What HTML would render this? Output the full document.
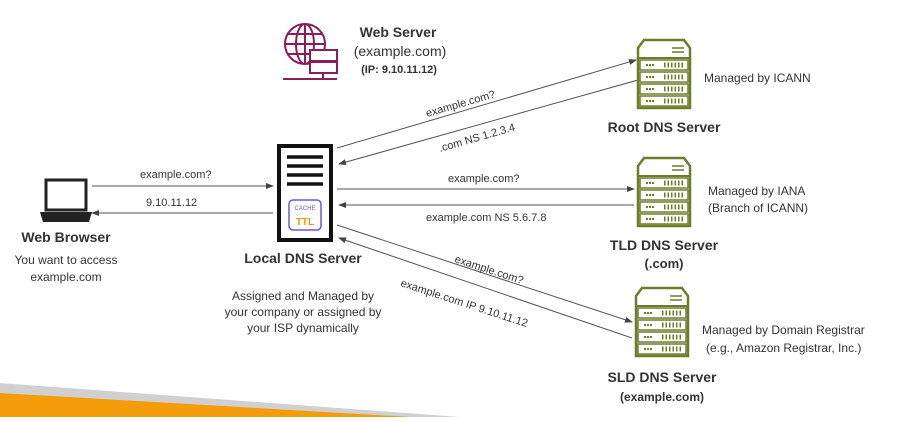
<!DOCTYPE html>
<html><head><style>
body{margin:0;width:905px;height:417px;overflow:hidden;background:#fff;font-family:"Liberation Sans",sans-serif;}
</style></head><body>
<svg width="905" height="417" xmlns="http://www.w3.org/2000/svg" font-family="Liberation Sans, sans-serif">
<defs>
<marker id="a" markerWidth="8" markerHeight="8" refX="7" refY="4" orient="auto" markerUnits="userSpaceOnUse"><path d="M0,1 L8,4 L0,7z" fill="#444"/></marker>
<g id="srv">
<path d="M2,8 L8,0 L48,0 L54,8 L54,68 L2,68z" fill="#fff" stroke="#6b7d2a" stroke-width="2.5"/>
<line x1="2" y1="18" x2="54" y2="18" stroke="#6b7d2a" stroke-width="2"/>
<rect x="4" y="20" width="48" height="10" fill="none" stroke="#6b7d2a" stroke-width="1.5"/>
<rect x="4" y="32" width="48" height="10" fill="none" stroke="#6b7d2a" stroke-width="1.5"/>
<rect x="4" y="44" width="48" height="10" fill="none" stroke="#6b7d2a" stroke-width="1.5"/>
<rect x="4" y="56" width="48" height="10" fill="none" stroke="#6b7d2a" stroke-width="1.5"/>
<path d="M10,25h8M10,37h8M10,49h8M10,61h8" stroke="#6b7d2a" stroke-width="2" stroke-dasharray="2,1"/>
<path d="M28,25h20M28,37h20M28,49h20M28,61h20" stroke="#6b7d2a" stroke-width="5" stroke-dasharray="1.5,2"/>
<path d="M36,8h12M36,12h12" stroke="#6b7d2a" stroke-width="1.5"/>
</g>
</defs>
<!-- bottom bands -->
<polygon points="0,383 460,417 0,417" fill="#d0d0d0"/>
<polygon points="0,393 410,417 0,417" fill="#f59c0a"/>
<!-- web server icon -->
<g stroke="#8c1c5a" fill="none" stroke-width="2">
<circle cx="305" cy="44" r="20"/>
<ellipse cx="305" cy="44" rx="9" ry="20"/>
<line x1="285" y1="44" x2="325" y2="44"/><line x1="305" y1="24" x2="305" y2="64"/>
<path d="M288,34h34M288,54h34"/>
<rect x="310" y="50" width="27" height="11" fill="#fff"/>
<rect x="310" y="62" width="27" height="11" fill="#fff"/>
<line x1="283" y1="79" x2="337" y2="79"/><line x1="323" y1="73" x2="323" y2="79"/>
</g>
<text x="398" y="37" font-size="14" font-weight="bold" fill="#333" text-anchor="middle">Web Server</text>
<text x="400" y="56" font-size="14" fill="#333" text-anchor="middle">(example.com)</text>
<text x="399" y="73" font-size="11" font-weight="bold" fill="#333" text-anchor="middle">(IP: 9.10.11.12)</text>
<!-- local dns -->
<rect x="279" y="146" width="52" height="94" fill="#fff" stroke="#111" stroke-width="4"/>
<path d="M287,157h36M287,166h36M287,175h36M287,184h36" stroke="#111" stroke-width="3.5"/>
<rect x="289" y="200" width="32" height="30" rx="4" fill="#fff" stroke="#6a5acd" stroke-width="1.5"/>
<text x="305" y="210" font-size="6" fill="#6a5acd" text-anchor="middle">CACHE</text>
<text x="305" y="225" font-size="10" font-weight="bold" fill="#f0960e" text-anchor="middle">TTL</text>
<text x="303" y="263" font-size="14" font-weight="bold" fill="#333" text-anchor="middle">Local DNS Server</text>
<text x="303" y="300" font-size="12" fill="#333" text-anchor="middle">Assigned and Managed by</text>
<text x="303" y="316" font-size="12" fill="#333" text-anchor="middle">your company or assigned by</text>
<text x="303" y="332" font-size="12" fill="#333" text-anchor="middle">your ISP dynamically</text>
<!-- laptop -->
<rect x="46" y="180" width="40" height="30" fill="#fff" stroke="#222" stroke-width="3"/>
<path d="M40,212 h52 l-3,10 h-46z" fill="#222"/>
<text x="66" y="242" font-size="14" font-weight="bold" fill="#333" text-anchor="middle">Web Browser</text>
<text x="66" y="264" font-size="12" fill="#333" text-anchor="middle">You want to access</text>
<text x="66" y="281" font-size="12" fill="#333" text-anchor="middle">example.com</text>
<g stroke="#555" stroke-width="1">
<line x1="92" y1="186" x2="273" y2="186" marker-end="url(#a)"/>
<line x1="273" y1="213" x2="92" y2="213" marker-end="url(#a)"/>
<line x1="337" y1="148" x2="636" y2="60" marker-end="url(#a)"/>
<line x1="638" y1="80" x2="339" y2="164" marker-end="url(#a)"/>
<line x1="337" y1="189" x2="634" y2="189" marker-end="url(#a)"/>
<line x1="634" y1="205" x2="339" y2="205" marker-end="url(#a)"/>
<line x1="337" y1="225" x2="632" y2="322" marker-end="url(#a)"/>
<line x1="632" y1="338" x2="339" y2="238" marker-end="url(#a)"/>
</g>
<g font-size="11" fill="#333">
<text x="140" y="178">example.com?</text>
<text x="146" y="206">9.10.11.12</text>
<text x="0" y="0" transform="translate(427,117) rotate(-16)">example.com?</text>
<text x="0" y="0" transform="translate(440,152) rotate(-16)">.com NS 1.2.3.4</text>
<text x="448" y="182">example.com?</text>
<text x="426" y="221">example.com NS 5.6.7.8</text>
<text x="0" y="0" transform="translate(454,262) rotate(18)">example.com?</text>
<text x="0" y="0" transform="translate(400,286) rotate(18)">example.com IP 9.10.11.12</text>
</g>
<use href="#srv" x="636" y="40"/>
<use href="#srv" x="636" y="158"/>
<use href="#srv" x="634" y="288"/>
<g fill="#333">
<text x="664" y="132" font-size="14" font-weight="bold" text-anchor="middle">Root DNS Server</text>
<text x="704" y="82" font-size="12">Managed by ICANN</text>
<text x="664" y="250" font-size="14" font-weight="bold" text-anchor="middle">TLD DNS Server</text>
<text x="664" y="268" font-size="13" font-weight="bold" text-anchor="middle">(.com)</text>
<text x="708" y="195" font-size="12">Managed by IANA</text>
<text x="708" y="212" font-size="12">(Branch of ICANN)</text>
<text x="662" y="382" font-size="14" font-weight="bold" text-anchor="middle">SLD DNS Server</text>
<text x="662" y="401" font-size="12" font-weight="bold" text-anchor="middle">(example.com)</text>
<text x="702" y="334" font-size="12">Managed by Domain Registrar</text>
<text x="706" y="352" font-size="12">(e.g., Amazon Registrar, Inc.)</text>
</g>
</svg>
</body></html>
